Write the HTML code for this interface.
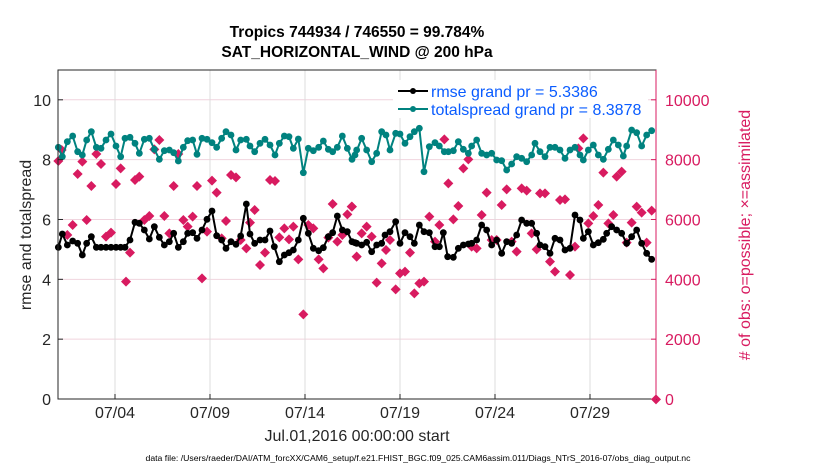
<!DOCTYPE html>
<html><head><meta charset="utf-8"><style>
body{margin:0;background:#fff;width:830px;height:470px;overflow:hidden}
svg{font-family:"Liberation Sans",sans-serif}
</style></head><body>
<svg id="s" width="830" height="470" xmlns="http://www.w3.org/2000/svg">
<rect width="830" height="470" fill="#fff"/>
<g id="grid"></g>
<g id="data"></g>
<rect x="58" y="70" width="598" height="329" fill="none" stroke="#262626" stroke-width="1"/>
<line x1="656" y1="70" x2="656" y2="399" stroke="#d81b60" stroke-width="1"/>
<g id="ticks" font-size="16" fill="#262626"></g>
<text x="357" y="37" font-size="15.5" font-weight="bold" text-anchor="middle" fill="#000">Tropics 744934 / 746550 = 99.784%</text>
<text x="357" y="57" font-size="15.5" font-weight="bold" text-anchor="middle" fill="#000">SAT_HORIZONTAL_WIND @ 200 hPa</text>
<text transform="translate(31,235) rotate(-90)" font-size="16" text-anchor="middle" fill="#262626">rmse and totalspread</text>
<text transform="translate(750,235) rotate(-90)" font-size="16" text-anchor="middle" fill="#d81b60">#  of obs: o=possible; ×=assimilated</text>
<text x="357" y="441" font-size="16" text-anchor="middle" fill="#262626">Jul.01,2016 00:00:00 start</text>
<text x="418" y="461" font-size="8.7" text-anchor="middle" fill="#000">data file: /Users/raeder/DAI/ATM_forcXX/CAM6_setup/f.e21.FHIST_BGC.f09_025.CAM6assim.011/Diags_NTrS_2016-07/obs_diag_output.nc</text>
<rect x="393" y="80" width="255" height="38" fill="#fff"/>
<line x1="398" y1="91" x2="428" y2="91" stroke="#000" stroke-width="2"/><circle cx="413" cy="91" r="3" fill="#000"/>
<line x1="398" y1="109" x2="428" y2="109" stroke="#00827f" stroke-width="2"/><circle cx="413" cy="109" r="3" fill="#00827f"/>
<text x="431" y="97" font-size="16" fill="#0a5cff">rmse grand pr = 5.3386</text>
<text x="431" y="115" font-size="16" fill="#0a5cff">totalspread grand pr = 8.3878</text>
</svg>
<script>
const NS="http://www.w3.org/2000/svg";
function el(p,t,a){const e=document.createElementNS(NS,t);for(const k in a)e.setAttribute(k,a[k]);p.appendChild(e);return e;}
const g=document.getElementById('grid'),d=document.getElementById('data'),tk=document.getElementById('ticks');
function Y(v){return 399-v*29.92;}
for(let v=2;v<=10;v+=2)el(g,'line',{x1:58,x2:656,y1:Y(v),y2:Y(v),stroke:'#f0d4de','stroke-width':1});
const xs=[115,210,305,400,495,590],lab=['07/04','07/09','07/14','07/19','07/24','07/29'];
xs.forEach((x,i)=>{el(g,'line',{x1:x,x2:x,y1:70,y2:399,stroke:'#dcdcdc','stroke-width':1});
el(tk,'line',{x1:x,x2:x,y1:399,y2:394,stroke:'#262626'});
const t=el(tk,'text',{x:x,y:418,'text-anchor':'middle'});t.textContent=lab[i];});
for(let v=0;v<=10;v+=2){const t=el(tk,'text',{x:51,y:Y(v)+6,'text-anchor':'end'});t.textContent=v;
const r=el(tk,'text',{x:665,y:Y(v)+6,fill:'#d81b60'});r.textContent=v==0?'0':v*1000;
el(tk,'line',{x1:58,x2:63,y1:Y(v),y2:Y(v),stroke:'#262626'});el(tk,'line',{x1:651,x2:656,y1:Y(v),y2:Y(v),stroke:'#d81b60'});}
function conv(a,ox){const o=[];for(let i=0;i<a.length;i+=2)o.push([ox+a[i]/3,60+a[i+1]/3]);return o;}
const b1=[25,562,37,522,52,555,68,543,83,550,97,585,110,550,124,530,139,562,153,562,168,562,183,562,198,562,212,562,225,562,240,540,255,487,268,490,283,510,298,537,313,500,328,532,343,555,358,545,371,520,385,562,400,545,413,520,428,518,441,535,456,510,471,478,486,453,500,527,515,540,528,565,543,545,558,553,572,528,589,432,600,522,614,550,630,540,645,540,660,513,673,560,688,605,703,585,717,578,730,570,745,540,760,475,775,520,790,565,806,572,820,563,835,530,848,518,862,468,877,510,892,515,906,545,920,550];
const b2=[15,548,35,555,50,547,65,575,80,555,95,550,105,525,120,515,137,485,150,550,165,518,180,530,193,550,208,495,222,515,238,518,255,560,268,560,280,518,293,590,310,592,325,565,340,555,355,552,365,550,380,540,395,495,410,510,425,555,440,540,455,580,470,545,485,550,500,525,515,480,530,490,545,490,560,520,570,555,585,560,600,580,615,535,630,540,645,570,660,565,675,465,690,480,700,535,715,515,730,555,745,548,760,538,770,520,785,500,800,510,815,520,830,550,845,530,860,510,875,550,890,580,905,598];
const t1=[25,262,37,290,52,245,68,228,83,275,97,285,110,240,124,215,139,262,153,265,168,240,183,222,198,258,212,290,225,235,240,232,255,250,268,280,283,238,298,235,313,268,328,298,343,272,358,270,371,278,385,303,400,262,413,242,428,240,441,283,456,235,471,238,486,248,500,262,515,235,528,215,543,225,558,270,572,240,589,238,600,258,614,275,630,250,645,238,660,255,675,285,688,250,703,228,717,230,730,265,745,237,760,338,775,265,790,272,806,262,820,243,835,268,848,275,862,262,877,228,892,265,906,298,920,270];
const t2=[15,285,35,235,50,270,65,305,80,280,95,215,108,225,120,270,137,220,150,222,165,250,180,230,193,215,208,205,222,335,238,260,255,248,268,258,283,275,295,275,310,272,325,245,340,268,355,280,365,258,380,240,395,280,410,285,425,280,440,300,455,302,470,330,485,312,500,290,515,295,530,305,545,285,555,250,570,275,585,290,600,262,615,262,630,270,645,295,660,270,675,262,690,285,700,300,715,270,730,255,745,285,760,298,775,268,790,240,805,255,820,288,830,258,845,210,860,218,875,258,890,225,905,212];
const p1=[25,303,35,270,52,525,68,495,83,342,97,305,110,480,124,378,139,282,153,312,168,530,183,518,198,372,212,325,228,665,240,578,255,360,268,350,283,480,298,468,313,268,328,240,343,468,358,520,371,378,385,282,400,480,413,500,428,470,441,378,456,655,471,515,486,362,500,398,515,535,528,483,543,345,558,352,572,540,589,565,600,488,614,450,630,615,645,578,660,360,675,363,688,532,703,505,717,538,730,500,745,598,760,763,775,495,790,505,806,598,820,625,835,533,848,432,862,545,877,525,892,463,906,440,920,590];
const p2=[5,440,20,590,35,520,50,500,65,530,80,668,95,610,108,570,120,540,137,688,150,640,165,635,180,578,193,700,208,670,222,665,238,470,255,545,268,495,283,238,295,370,310,478,325,438,340,325,355,298,365,560,380,565,395,465,410,398,425,540,440,540,455,435,470,388,485,545,500,575,515,385,530,392,545,520,560,568,570,400,585,400,600,605,615,635,630,420,645,418,660,645,675,560,685,265,700,235,715,490,730,468,745,435,760,338,775,490,790,465,800,350,815,335,830,548,845,488,860,440,875,458,890,548,905,452,918,1018];
const pink=conv(p1,50).concat(conv(p2,350));
pink.forEach(([x,y])=>{el(d,'path',{d:`M${x} ${y-5}L${x+5} ${y}L${x} ${y+5}L${x-5} ${y}Z`,fill:'#d81b60'});});
function series(pts,c){el(d,'polyline',{points:pts.map(p=>p.join(',')).join(' '),fill:'none',stroke:c,'stroke-width':2});
pts.forEach(([x,y])=>el(d,'circle',{cx:x,cy:y,r:3.4,fill:c}));}
series(conv(t1,50).concat(conv(t2,350)),'#00827f');
series(conv(b1,50).concat(conv(b2,350)),'#000');
</script>
</body></html>
